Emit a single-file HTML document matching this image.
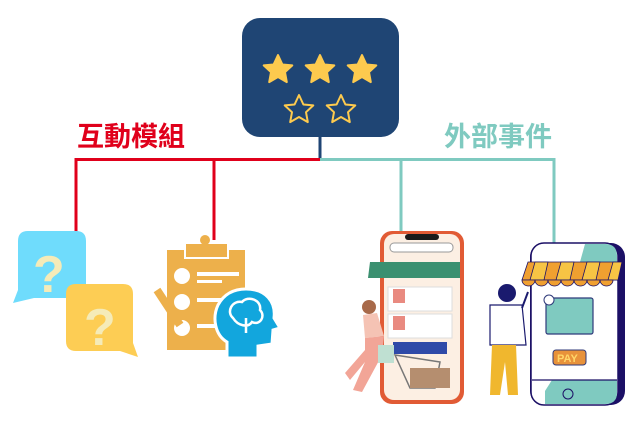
<!DOCTYPE html>
<html><head><meta charset="utf-8"><style>
html,body{margin:0;padding:0;background:#fff;width:640px;height:430px;overflow:hidden}
svg{display:block}
text{font-family:"Liberation Sans","Noto Sans CJK TC",sans-serif;font-weight:bold}
</style></head><body>
<svg width="640" height="430" viewBox="0 0 640 430">
<defs>
<path id="st" d="M0,-15 L4.4,-5.5 L14.3,-4.6 L7,2.2 L8.8,12.1 L0,7 L-8.8,12.1 L-7,2.2 L-14.3,-4.6 L-4.4,-5.5 Z"/>
</defs>
<line x1="320" y1="136" x2="320" y2="160" stroke="#1f4574" stroke-width="3"/>
<polyline points="76,234 76,159.5 320,159.5" fill="none" stroke="#e0001b" stroke-width="3"/>
<line x1="214" y1="159.5" x2="214" y2="240" stroke="#e0001b" stroke-width="3"/>
<polyline points="320,159.5 554,159.5 554,250" fill="none" stroke="#7fcac0" stroke-width="3"/>
<line x1="401" y1="159.5" x2="401" y2="234" stroke="#7fcac0" stroke-width="3"/>
<rect x="242" y="18" width="157" height="119" rx="18" fill="#1f4574"/>
<g fill="#fdca4e" stroke="#fdca4e" stroke-width="2" stroke-linejoin="round">
<use href="#st" x="278" y="70"/><use href="#st" x="320" y="70"/><use href="#st" x="362" y="70"/>
</g>
<g fill="none" stroke="#fdca4e" stroke-width="2" stroke-linejoin="round">
<use href="#st" x="299" y="110"/><use href="#st" x="341" y="110"/>
</g>
<text x="77" y="146" font-size="27" fill="#e0001b">互動模組</text>
<text x="444" y="146" font-size="27" fill="#7fcac0">外部事件</text>
<!-- bubbles -->
<path d="M28,231 H76 Q86,231 86,241 V289 Q86,298 76,298 H34 L13,303 L18,290 V241 Q18,231 28,231Z" fill="#6fdcfc"/>
<text x="33" y="292" font-size="52" fill="#f5ebb8" font-weight="normal">?</text>
<path d="M76,284 H123 Q133,284 133,294 V343 L138,357 L120,351 H76 Q66,351 66,341 V294 Q66,284 76,284Z" fill="#fdcd54"/>
<text x="84" y="345" font-size="52" fill="#f5ebb8" font-weight="normal">?</text>
<!-- clipboard -->
<rect x="167" y="250" width="78" height="100" fill="#edb04b"/>
<rect x="185" y="243" width="43" height="15" fill="#edb04b" stroke="#fff" stroke-width="2"/>
<circle cx="205" cy="240" r="5" fill="#edb04b"/>
<g fill="#fff"><circle cx="182" cy="276" r="8"/><circle cx="182" cy="302" r="8"/><circle cx="182" cy="328" r="8"/>
<rect x="197" y="272" width="42" height="4"/><rect x="197" y="280" width="25" height="3"/><rect x="197" y="298" width="40" height="4"/><rect x="197" y="324" width="40" height="4"/></g>
<line x1="157" y1="290" x2="180" y2="325" stroke="#edb04b" stroke-width="8"/>
<path d="M246,289 C266,289 276,302 274,318 L280,328 L273,330 L272,344 L258,346 L258,358 L227,358 L227,342 C215,335 212,318 218,305 C224,294 234,289 246,289Z" fill="#12a6dd" stroke="#fff" stroke-width="3"/>
<path d="M233,318 C226,312 232,300 242,302 C248,295 262,300 260,310 C266,316 260,326 252,322 C248,328 238,326 233,318Z M246,318 V333" fill="none" stroke="#fff" stroke-width="2.5"/>
<!-- phone 1 -->
<rect x="380" y="231" width="84" height="173" rx="12" fill="#e15b35"/>
<rect x="384" y="234" width="76" height="166" rx="10" fill="#fcefe3"/>
<rect x="405" y="234" width="34" height="6" rx="3" fill="#1a1a1a"/>
<rect x="390" y="243" width="63" height="9" rx="4" fill="#fff" stroke="#999" stroke-width="1"/>
<path d="M370,262 H460 L460,278 H368 Z" fill="#3b9070"/>
<rect x="388" y="287" width="64" height="24" fill="#fff" stroke="#ddd"/>
<rect x="388" y="314" width="64" height="24" fill="#fff" stroke="#ddd"/>
<rect x="393" y="342" width="54" height="12" fill="#2f4aa8"/>
<rect x="393" y="316" width="12" height="14" fill="#e98a80"/>
<rect x="393" y="289" width="12" height="14" fill="#e98a80"/>
<circle cx="369" cy="307" r="7" fill="#a86a4a"/>
<path d="M363,315 L377,313 L384,336 L365,338Z" fill="#f5c3b4"/>
<path d="M365,338 L384,336 L382,355 L362,392 L353,390 L365,362 L350,380 L345,373 L365,350Z" fill="#f2a597"/>
<rect x="378" y="345" width="16" height="18" fill="#bfe0d2"/>
<path d="M395,355 L440,362 L435,388 L410,388Z" fill="none" stroke="#777" stroke-width="1.5"/>
<rect x="410" y="368" width="40" height="20" fill="#b58e6f"/>
<!-- man -->
<circle cx="507" cy="293" r="9" fill="#1a1a6e"/>
<path d="M490,305 H522 L526,345 H490Z" fill="#fff" stroke="#1a1a6e" stroke-width="1.2"/>
<path d="M492,345 H516 L518,395 H508 L505,362 L500,395 H490Z" fill="#f0b72e"/>
<line x1="522" y1="308" x2="528" y2="292" stroke="#1a1a6e" stroke-width="2"/>
<!-- phone 2 -->
<rect x="530" y="243" width="95" height="162" rx="14" fill="#1c1066"/>
<rect x="531" y="243" width="87" height="162" rx="13" fill="#fff" stroke="#1c1066" stroke-width="1.5"/>
<path d="M585,244 H605 Q617,244 617,256 V262 H580Z" fill="#7fcac0"/>
<path d="M545,391 L552,380 H617 V393 Q617,404 605,404 H545Z" fill="#7fcac0"/>
<line x1="532" y1="380" x2="617" y2="380" stroke="#1c1066" stroke-width="1.2"/>
<g stroke="#1c1066" stroke-width="0.8">
<path d="M528,262 H622 L618,280 H522Z" fill="#f0a030"/>
<path d="M535,262 H548 L544,280 H530Z M561,262 H574 L570,280 H556Z M587,262 H600 L596,280 H582Z M613,262 H622 L618,280 H608Z" fill="#f7c444"/>
</g>
<g fill="#f0a030" stroke="#1c1066" stroke-width="0.8">
<path d="M522,280 a6.5,6 0 0 0 13,0Z"/><path d="M535,280 a6.5,6 0 0 0 13,0Z"/><path d="M548,280 a6.5,6 0 0 0 13,0Z"/><path d="M561,280 a6.5,6 0 0 0 13,0Z"/><path d="M574,280 a6.5,6 0 0 0 13,0Z"/><path d="M587,280 a6.5,6 0 0 0 13,0Z"/><path d="M600,280 a6.5,6 0 0 0 13,0Z"/>
</g>
<rect x="546" y="298" width="47" height="36" rx="2" fill="#7fcac0" stroke="#2f3a7a" stroke-width="1.2"/>
<circle cx="549" cy="300" r="5" fill="#fff" stroke="#2f3a7a"/>
<rect x="553" y="350" width="33" height="15" rx="3" fill="#e8923a" stroke="#2f3a7a"/>
<text x="557" y="362" font-size="11" fill="#ffd76a">PAY</text>
<circle cx="568" cy="394" r="5" fill="none" stroke="#1c1066"/>
</svg>
</body></html>
